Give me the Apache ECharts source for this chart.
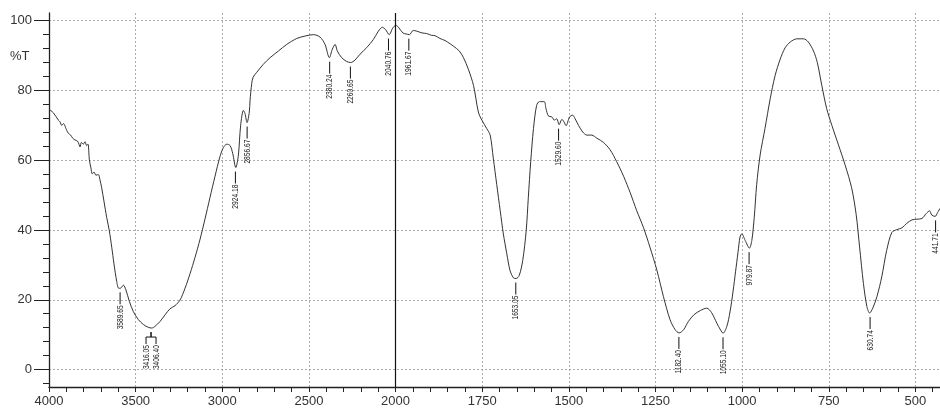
<!DOCTYPE html>
<html>
<head>
<meta charset="utf-8">
<script src="https://cdn.jsdelivr.net/npm/echarts@6/dist/echarts.min.js"></script>
<style>
  html, body { margin: 0; padding: 0; background: #fff; }
  #chart { width: 940px; height: 408px; }
</style>
</head>
<body>
<div id="chart"></div>
<script>
// IR spectrum (wavenumber in cm-1, transmittance in %T)
const wavenumber = [
  4000, 3975, 3946, 3936, 3927, 3917, 3898, 3888, 3875, 3863, 3850, 3836, 3827, 3821, 3813, 3802,
  3792, 3783, 3775, 3767, 3758, 3750, 3740, 3729, 3715, 3706, 3696, 3683, 3667, 3652, 3638, 3625,
  3609, 3598, 3588, 3571, 3556, 3536, 3513, 3484, 3455, 3427, 3407, 3388, 3359, 3330, 3302, 3273,
  3244, 3215, 3186, 3157, 3128, 3100, 3071, 3042, 3013, 2994, 2974, 2955, 2940, 2922, 2907, 2894,
  2878, 2869, 2857, 2844, 2840, 2830, 2822, 2801, 2763, 2724, 2676, 2628, 2570, 2522, 2474, 2436,
  2407, 2382, 2365, 2349, 2336, 2311, 2282, 2259, 2234, 2205, 2166, 2128, 2099, 2076, 2057, 2037,
  2016, 1999, 1990, 1979, 1970, 1960, 1949, 1939, 1924, 1910, 1896, 1886, 1872, 1857, 1843, 1833,
  1816, 1804, 1790, 1775, 1761, 1751, 1737, 1727, 1718, 1708, 1698, 1689, 1679, 1670, 1660, 1652,
  1643, 1633, 1623, 1617, 1610, 1602, 1593, 1585, 1571, 1566, 1559, 1549, 1542, 1535, 1528, 1520,
  1514, 1508, 1498, 1489, 1482, 1472, 1460, 1448, 1434, 1419, 1400, 1381, 1362, 1342, 1323, 1304,
  1285, 1266, 1246, 1227, 1208, 1193, 1182, 1169, 1155, 1139, 1121, 1102, 1088, 1073, 1062, 1055,
  1044, 1035, 1026, 1019, 1012, 1006, 1001, 991, 979, 972, 965, 958, 948, 934, 919, 905,
  890, 876, 861, 842, 823, 809, 794, 783, 770, 756, 741, 722, 703, 684, 671, 661,
  650, 640, 632, 623, 611, 597, 583, 568, 554, 539, 525, 510, 496, 481, 469, 459,
  453, 443, 436, 429
];
const transmittance = [
  74.6, 73.6, 71.5, 71.0, 70.0, 70.5, 68.6, 67.7, 67.2, 66.3, 65.8, 65.5, 64.6, 63.8, 65.1, 64.6,
  65.3, 64.2, 64.6, 60.1, 57.8, 56.1, 56.6, 55.7, 55.9, 54.4, 52.1, 48.3, 43.6, 39.8, 35.1, 30.3,
  25.2, 23.3, 23.3, 24.2, 22.8, 19.5, 16.6, 14.3, 12.9, 12.1, 11.9, 12.4, 13.8, 15.7, 17.4, 18.3,
  19.9, 23.3, 27.5, 32.2, 37.4, 43.1, 49.3, 55.4, 61.1, 63.6, 64.6, 64.2, 62.0, 57.9, 61.5, 70.0,
  74.3, 73.4, 70.8, 73.8, 77.0, 82.0, 83.8, 85.2, 87.5, 89.4, 91.3, 93.2, 94.9, 95.6, 96.0, 95.3,
  93.2, 89.4, 91.8, 93.2, 91.3, 89.4, 88.3, 88.0, 88.7, 90.4, 92.3, 94.6, 97.0, 98.1, 97.4, 96.0,
  97.9, 98.7, 97.9, 96.5, 96.2, 96.0, 97.2, 97.0, 96.5, 96.3, 95.8, 95.7, 94.9, 94.3, 93.4, 92.7,
  91.3, 89.4, 86.1, 81.4, 73.8, 71.5, 69.1, 67.2, 60.6, 53.0, 45.5, 38.9, 33.2, 28.5, 26.3, 26.1,
  27.0, 31.3, 39.8, 49.2, 59.6, 69.1, 75.7, 76.8, 76.8, 74.8, 72.7, 72.4, 71.5, 71.9, 70.2, 71.7,
  71.0, 69.9, 72.4, 72.9, 71.9, 70.0, 68.1, 67.2, 67.2, 66.3, 65.1, 63.0, 59.6, 55.4, 50.7, 45.5,
  40.8, 35.1, 28.5, 20.9, 14.3, 11.4, 10.5, 11.4, 13.8, 15.7, 16.9, 17.6, 16.3, 13.3, 11.3, 10.4,
  12.4, 16.5, 22.5, 28.0, 33.5, 38.0, 38.9, 37.0, 34.8, 37.0, 43.6, 53.0, 61.5, 69.1, 77.6, 84.2,
  89.0, 92.2, 93.9, 94.8, 94.8, 93.9, 91.3, 88.0, 81.4, 74.8, 70.0, 64.4, 58.7, 52.1, 44.5, 35.1,
  24.7, 18.1, 16.2, 17.6, 20.9, 26.6, 34.1, 39.3, 40.1, 40.6, 41.9, 42.9, 43.1, 43.3, 44.7, 45.5,
  44.3, 43.9, 45.0, 46.2
];

// labelled peaks
const peakWn = [3589.65, 3416.05, 3406.40, 2924.18, 2856.67, 2380.24, 2260.65, 2040.76,
  1961.67, 1653.05, 1529.60, 1182.40, 1055.10, 979.87, 630.74, 441.71];
const peakT = [23.3, 11.9, 11.9, 57.9, 70.8, 89.4, 88.0, 96.0,
  96.0, 26.1, 70.2, 10.5, 10.4, 34.8, 16.2, 43.9];

const xTickWn = [4000, 3500, 3000, 2500, 2000, 1750, 1500, 1250, 1000, 750, 500];
const yTicks = [0, 20, 40, 60, 80, 100];

// the axis is compressed 2:1 above 2000 cm-1
function toAxis(w) { return w <= 2000 ? w : 2000 + (w - 2000) / 2; }
function fromAxis(u) { return u <= 2000 ? u : 2000 + (u - 2000) * 2; }

const X_MIN = 429, X_MAX = 3000, Y_MIN = -5, Y_MAX = 102.2;
const FONT = '"Liberation Sans", Arial, sans-serif';

const xMinor = [];
for (let u = 450; u <= 3000; u += 50) xMinor.push(u);
const yMinor = [];
for (let v = -4; v <= 100; v += 4) yMinor.push(v);

const lineData = wavenumber.map((w, i) => [toAxis(w), transmittance[i]]);
const peakData = peakWn.map((w, i) => [toAxis(w), peakT[i]]);

function renderPeak(params, api) {
  const i = params.dataIndex;
  const p = api.coord([api.value(0), api.value(1)]);
  const px = j => api.coord([toAxis(peakWn[j]), 0])[0];
  let cx = p[0], lx = p[0];
  // spread labels of peaks that sit on top of each other
  if (i + 1 < peakWn.length && Math.abs(px(i + 1) - p[0]) < 8) {
    cx = (p[0] + px(i + 1)) / 2; lx = cx - 5;
  } else if (i > 0 && Math.abs(px(i - 1) - p[0]) < 8) {
    cx = (p[0] + px(i - 1)) / 2; lx = cx + 5;
  }
  const y0 = p[1] + 4;
  const pts = lx === cx
    ? [[lx, y0], [lx, y0 + 12]]
    : [[cx, y0], [cx, y0 + 5], [lx, y0 + 5], [lx, y0 + 12]];
  return {
    type: 'group',
    children: [
      { type: 'polyline', shape: { points: pts }, style: { stroke: '#111', lineWidth: 1, fill: null } },
      {
        type: 'text', x: lx, y: y0 + 13, rotation: Math.PI / 2, scaleX: 0.74,
        style: {
          text: peakWn[i].toFixed(2), align: 'right', verticalAlign: 'middle',
          font: '9px "Liberation Sans", Arial, sans-serif', fill: '#222'
        }
      }
    ]
  };
}

const chart = echarts.init(document.getElementById('chart'), null, { renderer: 'canvas' });

const gridLine = { show: true, lineStyle: { color: '#999', type: [2, 2], width: 0.8 } };

chart.setOption({
  animation: false,
  backgroundColor: '#fff',
  grid: { left: 49, right: 0, top: 13, bottom: 16.5 },
  xAxis: [
    {
      type: 'value', inverse: true, min: X_MIN, max: X_MAX,
      axisLine: { show: true, onZero: false, lineStyle: { color: '#222', width: 1.3 } },
      axisTick: { show: true, length: 5, customValues: xTickWn.map(toAxis), lineStyle: { color: '#222' } },
      axisLabel: {
        customValues: xTickWn.map(toAxis), margin: 8, color: '#333', fontSize: 13, fontFamily: FONT,
        formatter: v => String(Math.round(fromAxis(v)))
      },
      splitLine: gridLine
    },
    {
      type: 'value', inverse: true, min: X_MIN, max: X_MAX, position: 'bottom',
      axisLine: { show: false, onZero: false },
      axisTick: { show: true, length: 5, customValues: xMinor, lineStyle: { color: '#222' } },
      axisLabel: { show: false },
      splitLine: { show: false }
    }
  ],
  yAxis: [
    {
      type: 'value', min: Y_MIN, max: Y_MAX,
      axisLine: { show: true, onZero: false, lineStyle: { color: '#222', width: 1.3 } },
      axisTick: { show: true, length: 15, customValues: yTicks, lineStyle: { color: '#222' } },
      axisLabel: { customValues: yTicks, margin: 17, color: '#333', fontSize: 13, fontFamily: FONT },
      splitLine: gridLine
    },
    {
      type: 'value', min: Y_MIN, max: Y_MAX, position: 'left',
      axisLine: { show: false, onZero: false },
      axisTick: { show: true, length: 6, customValues: yMinor, lineStyle: { color: '#222' } },
      axisLabel: { show: false },
      splitLine: { show: false }
    }
  ],
  graphic: [
    { type: 'text', left: 10, top: 50, style: { text: '%T', font: '13px ' + FONT, fill: '#333' } }
  ],
  series: [
    {
      type: 'line',
      data: lineData,
      showSymbol: false,
      smooth: 0.3,
      lineStyle: { color: '#333', width: 1 },
      markLine: {
        silent: true, symbol: 'none', label: { show: false },
        lineStyle: { color: '#111', type: 'solid', width: 1.2 },
        data: [{ xAxis: toAxis(2000) }]
      },
      z: 3
    },
    {
      type: 'custom',
      coordinateSystem: 'cartesian2d',
      data: peakData,
      renderItem: renderPeak,
      clip: false,
      silent: true,
      z: 4
    }
  ]
});

window.addEventListener('resize', () => chart.resize());
</script>
</body>
</html>
